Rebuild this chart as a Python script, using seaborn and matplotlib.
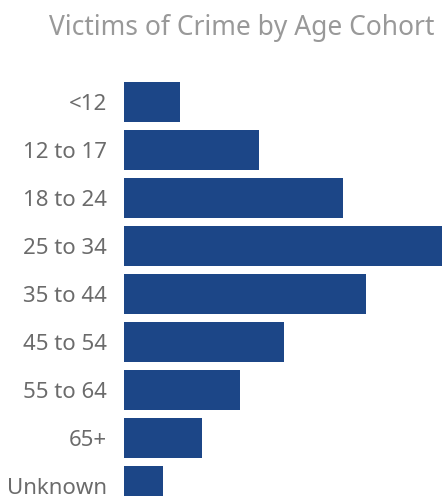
import pandas as pd
import matplotlib.pyplot as plt
import seaborn as sns

# data (approximate)
age_groups = ["<12", "12 to 17", "18 to 24", "25 to 34", "35 to 44",
              "45 to 54", "55 to 64", "65+", "Unknown"]
victims = [56, 135, 219, 330, 242, 160, 116, 78, 39]

df = pd.DataFrame({"Age": age_groups, "Victims": victims})

sns.set_theme(style="white")
plt.rcParams["font.family"] = ["Noto Sans", "DejaVu Sans"]

fig = plt.figure(figsize=(4.42, 4.96), dpi=100)
ax = fig.add_axes([124 / 442, 0, 318 / 442, 1])

sns.barplot(data=df, x="Victims", y="Age", color="#1c4687", saturation=1,
            width=40 / 48, linewidth=0, ax=ax)

ax.set_xlim(0, 318)
ax.set_ylim(8.208, -2.125)
ax.set_xlabel("")
ax.set_ylabel("")
ax.set_xticks([])
ax.tick_params(axis="y", length=0, pad=12, labelsize=16, labelcolor="#6b6b6b")
sns.despine(ax=ax, left=True, bottom=True)

fig.text(242 / 442, 1 - 35 / 496, "Victims of Crime by Age Cohort",
         ha="center", va="baseline", fontsize=19, color="#999999")

plt.savefig("out.png", dpi=100)
